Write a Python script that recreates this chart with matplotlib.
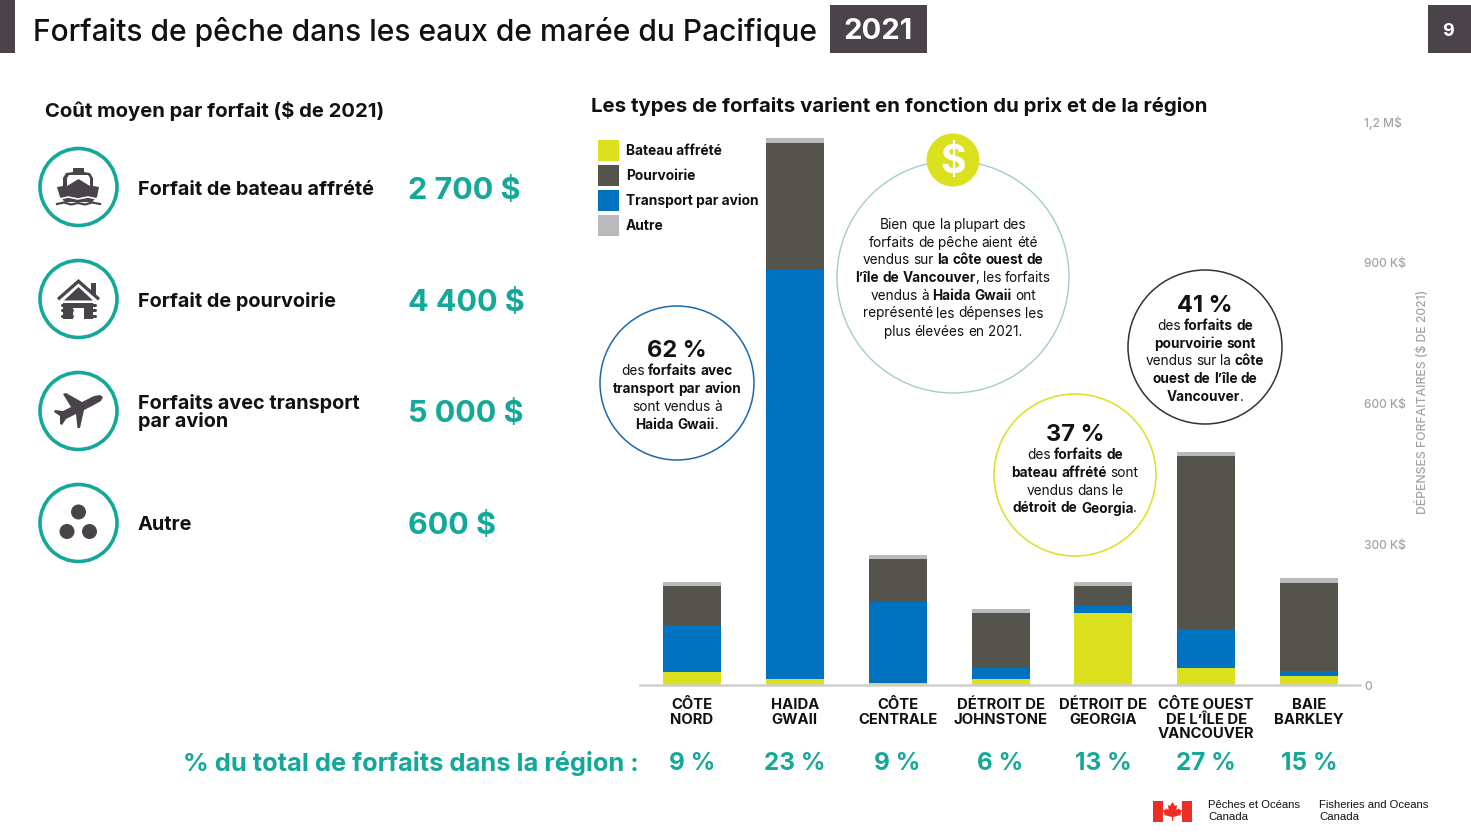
"""Forfaits de peche dans les eaux de maree du Pacifique, 2021."""

import matplotlib
matplotlib.use("Agg")
import matplotlib.pyplot as plt
from matplotlib.patches import Circle, Polygon, Rectangle
from matplotlib.transforms import blended_transform_factory

W, H = 1471, 834
FONT = "Inter"

REGIONS = ["CÔTE\nNORD", "HAIDA\nGWAII", "CÔTE\nCENTRALE", "DÉTROIT DE\nJOHNSTONE",
           "DÉTROIT DE\nGEORGIA", "CÔTE OUEST\nDE L’ÎLE DE\nVANCOUVER", "BAIE\nBARKLEY"]
REGION_SHARE = ["9 %", "23 %", "9 %", "6 %", "13 %", "27 %", "15 %"]

# depenses en K$
BATEAU = [28, 13, 5, 13, 153, 37, 20]
AVION = [100, 872, 172, 24, 16, 82, 9]
POURVOIRIE = [82, 270, 91, 116, 41, 370, 189]
AUTRE = [9, 10, 9, 8, 9, 8, 9]

Y_TICKS = [0, 300, 600, 900, 1200]
Y_LABELS = ["0", "300 K$", "600 K$", "900 K$", "1,2 M$"]

PACKAGES = ["Forfait de bateau affrété", "Forfait de pourvoirie",
            "Forfaits avec transport\npar avion", "Autre"]
PACKAGE_COST = ["2 700 $", "4 400 $", "5 000 $", "600 $"]

YELLOW = "#dbe01f"
DARK = "#55544c"
BLUE = "#0072bf"
GREY = "#b9babc"
TEAL = "#13a898"
ICON = "#4a4349"
INK = "#111111"


def px_axes(fig, left, top, right, bottom, **kwargs):
    return fig.add_axes([left / W, 1 - bottom / H, (right - left) / W, (bottom - top) / H], **kwargs)


def mixed_line(ax, renderer, cx, y, line, size=9.8):
    """Centered line, parts between ** are bold."""
    words = []
    for i, part in enumerate(line.split("**")):
        for word in part.split():
            words.append((word, "bold" if i % 2 else "normal"))
    items = []
    total = 0
    space = size * 100 / 72 * 0.26
    for word, weight in words:
        t = ax.text(0, y + 0.5, word, fontsize=size, fontweight=weight, family=FONT, color=INK,
                    ha="left", va="center")
        w = t.get_window_extent(renderer).width
        if word in (".", ",") or word.startswith(","):
            total -= space
        items.append((t, total))
        total += w + space
    total -= space
    for t, off in items:
        t.set_x(cx - total / 2 + off)


def draw_icons(ov):
    for y in [187, 299, 411, 523]:
        ov.add_patch(Circle((78.5, y), 38.5, fc="white", ec=TEAL, lw=2.6))

    # bateau
    ov.add_patch(Polygon([(73, 172), (73, 168), (84, 168), (84, 172), (90, 173), (93, 178),
                          (93, 186), (99, 187), (97, 197), (92, 202), (65, 202), (60, 197),
                          (57, 187), (63, 186), (63, 178), (66, 173)], fc=ICON, ec="none"))
    ov.add_patch(Polygon([(67, 186), (67, 178), (69, 175), (88, 175), (90, 178), (90, 186),
                          (78.5, 179)], fc="white", ec="none"))
    ov.plot([57, 64, 71, 78, 85, 92, 100], [204, 202.5, 204.5, 203, 204.5, 202.5, 204], color=ICON, lw=1.6)
    ov.plot([60, 68, 78, 88, 97], [199, 197, 199, 197, 199], color="white", lw=1.2)

    # maison
    ov.add_patch(Rectangle((91, 283), 5.5, 12, fc=ICON, ec="none"))
    ov.add_patch(Polygon([(78.5, 279), (100, 298), (98, 300.5), (78.5, 283.5), (59, 300.5), (57, 298)],
                         fc=ICON, ec="none"))
    ov.add_patch(Polygon([(78.5, 287), (93, 300.5), (64, 300.5)], fc=ICON, ec="none"))
    ov.add_patch(Rectangle((63, 303), 30, 15.5, fc=ICON, ec="none"))
    ov.add_patch(Rectangle((73, 308), 11, 10.5, fc="white", ec="none"))
    for y in [305, 310, 315.5]:
        ov.plot([62, 72], [y, y], color=ICON, lw=2.2, solid_capstyle="round")
        ov.plot([85, 95], [y, y], color=ICON, lw=2.2, solid_capstyle="round")

    # avion
    ov.add_patch(Polygon([(103, 397), (101, 401), (92, 406), (84, 410), (80, 428), (77.5, 428),
                          (76, 414), (66, 419), (62, 425), (60, 424), (60, 416), (54, 412),
                          (55, 410), (63, 411), (71, 407), (63, 394), (66, 393), (82, 402),
                          (94, 396), (100, 395)], fc=ICON, ec="none"))

    # autre
    for x, y in [(78.5, 512), (67, 531.5), (89.5, 531.5)]:
        ov.add_patch(Circle((x, y), 7.5, fc=ICON, ec="none"))


def draw_flag(ov):
    red = "#ee2e24"
    ov.add_patch(Rectangle((1153, 801), 10, 21, fc=red, ec="none"))
    ov.add_patch(Rectangle((1182, 801), 10, 21, fc=red, ec="none"))
    ov.add_patch(Polygon([(1172.5, 802), (1175, 806), (1177, 805), (1176.5, 810), (1179, 808.5),
                          (1180, 810), (1182, 810), (1180.5, 814), (1181, 815), (1173, 817),
                          (1173, 821), (1172, 821), (1172, 817), (1164, 815), (1164.5, 814),
                          (1163, 810), (1165, 810), (1166, 808.5), (1168.5, 810), (1168, 805),
                          (1170, 806)], fc=red, ec="none"))


def main():
    plt.rcParams["font.family"] = [FONT, "DejaVu Sans"]
    fig = plt.figure(figsize=(W / 100, H / 100), dpi=100, facecolor="white")

    # barres empilees
    ax = px_axes(fig, 640, 122, 1360, 685)
    ax.patch.set_alpha(0)
    x = list(range(len(REGIONS)))
    bottom = [0] * len(x)
    bars = {}
    for name, vals, col in [("Bateau affrété", BATEAU, YELLOW), ("Transport par avion", AVION, BLUE),
                            ("Pourvoirie", POURVOIRIE, DARK), ("Autre", AUTRE, GREY)]:
        bars[name] = ax.bar(x, vals, 0.564, bottom=bottom, color=col, linewidth=0, label=name)
        bottom = [b + v for b, v in zip(bottom, vals)]
    ax.set_xlim(-0.506, 6.496)
    ax.set_ylim(0, 1200)
    for side in ["top", "left", "right"]:
        ax.spines[side].set_visible(False)
    ax.spines["bottom"].set_color("#cfcfcf")
    ax.spines["bottom"].set_linewidth(1.8)
    ax.set_xticks(x)
    ax.set_xticklabels(REGIONS, fontsize=10.7, fontweight="bold", color=INK, linespacing=1.05)
    ax.tick_params(axis="x", length=0, pad=9.5)
    ax.yaxis.tick_right()
    ax.set_yticks(Y_TICKS)
    ax.set_yticklabels(Y_LABELS, fontsize=8.6, color="#a3a3a3", fontweight="medium")
    ax.tick_params(axis="y", length=0, pad=3)
    ax.yaxis.set_label_position("right")
    ax.set_ylabel("DÉPENSES FORFAITAIRES ($ DE 2021)", fontsize=8.8, color="#a3a3a3", fontweight="medium")
    ax.yaxis.set_label_coords(1.076, 0.503)

    # surcouche en pixels
    ov = px_axes(fig, 0, 0, W, H, zorder=5)
    ov.set_xlim(0, W)
    ov.set_ylim(H, 0)
    ov.axis("off")
    renderer = fig.canvas.get_renderer()

    ax.legend(handles=[bars[n] for n in ["Bateau affrété", "Pourvoirie", "Transport par avion", "Autre"]],
              loc="upper left", bbox_to_anchor=(598, 140), bbox_transform=ov.transData, frameon=False,
              borderpad=0, borderaxespad=0, handlelength=1.53, handleheight=1.97, handletextpad=0.5,
              labelspacing=0.29, prop={"size": 9.9, "weight": "bold", "family": FONT}, labelcolor=INK)

    # bandeau
    ov.add_patch(Rectangle((0, 0), 15, 53, fc=ICON, ec="none"))
    ov.text(33, 32, "Forfaits de pêche dans les eaux de marée du Pacifique", fontsize=21.6, fontweight="medium",
            color=INK, ha="left", va="center")
    ov.add_patch(Rectangle((830, 5), 97, 48, fc=ICON, ec="none"))
    ov.text(878, 31, "2021", fontsize=21, fontweight="bold", color="white", ha="center", va="center")
    ov.add_patch(Rectangle((1428, 5), 43, 48, fc=ICON, ec="none"))
    ov.text(1448.5, 31, "9", fontsize=13, fontweight="bold", color="white", ha="center", va="center")

    # colonne de gauche
    ov.text(45, 111, "Coût moyen par forfait ($ de 2021)", fontsize=14.6, fontweight="bold", color=INK,
            ha="left", va="center")
    draw_icons(ov)
    for y, name, cost in zip([190, 302, 413, 525], PACKAGES, PACKAGE_COST):
        ov.text(138, y - 0.5, name, fontsize=14.3, fontweight="bold", color=INK, ha="left", va="center",
                linespacing=0.9)
        ov.text(408, y + 1, cost, fontsize=22, fontweight="bold", color=TEAL, ha="left", va="center")

    ov.text(591, 106, "Les types de forfaits varient en fonction du prix et de la région", fontsize=14.7,
            fontweight="bold", color=INK, ha="left", va="center")

    # bulles
    ov.add_patch(Circle((953, 277), 116, fc="white", ec="#a3ccd0", lw=1.0))
    ov.add_patch(Circle((677, 383), 77, fc="white", ec="#1a6aaa", lw=1.1))
    ov.add_patch(Circle((1205, 347), 77, fc="white", ec="#333333", lw=1.1))
    ov.add_patch(Circle((1075, 475), 81, fc="white", ec=YELLOW, lw=1.1))
    ov.add_patch(Circle((953, 160), 26.5, fc=YELLOW, ec="none"))
    ov.text(953, 162, "$", fontsize=28, fontweight="bold", color="white", ha="center", va="center")

    big_lines = ["Bien que la plupart des", "forfaits de pêche aient été", "vendus sur **la côte ouest de**",
                 "**l’île de Vancouver**, les forfaits", "vendus à **Haida Gwaii** ont",
                 "représenté les dépenses les", "plus élevées en 2021."]
    for y, line in zip([224, 242, 260, 277, 295, 313, 331], big_lines):
        mixed_line(ov, renderer, 953, y, line)

    bubbles = [
        (677, 349, "62 %", [370, 388, 406, 424],
         ["des **forfaits avec**", "**transport par avion**", "sont vendus à", "**Haida Gwaii**."]),
        (1205, 304, "41 %", [325, 343, 360, 378, 396],
         ["des **forfaits de**", "**pourvoirie sont**", "vendus sur la **côte**", "**ouest de l’île de**", "**Vancouver**."]),
        (1075, 433, "37 %", [454, 472, 490, 508],
         ["des **forfaits de**", "**bateau affrété** sont", "vendus dans le", "**détroit de Georgia**."]),
    ]
    for cx, top_y, pct, ys, lines in bubbles:
        ov.text(cx, top_y + 2, pct, fontsize=17, fontweight="bold", color=INK, ha="center", va="center")
        for y, line in zip(ys, lines):
            mixed_line(ov, renderer, cx, y, line)

    # ligne du bas
    ov.text(639, 763, "% du total de forfaits dans la région :", fontsize=18.3, fontweight="bold", color=TEAL,
            ha="right", va="center")
    share_tr = blended_transform_factory(ax.transData, ov.transData)
    for i, share in enumerate(REGION_SHARE):
        ov.text(i, 763, share, transform=share_tr, fontsize=17.5, fontweight="bold", color=TEAL,
                ha="center", va="center")

    # signature
    draw_flag(ov)
    for x, first in [(1208, "Pêches et Océans"), (1319, "Fisheries and Oceans")]:
        ov.text(x, 805, first, fontsize=8.1, family="Liberation Sans", color=INK, ha="left", va="center")
        ov.text(x, 817, "Canada", fontsize=8.2, family="Liberation Sans", color=INK, ha="left", va="center")

    fig.savefig("out.png", dpi=100)
    plt.close(fig)


if __name__ == "__main__":
    main()
